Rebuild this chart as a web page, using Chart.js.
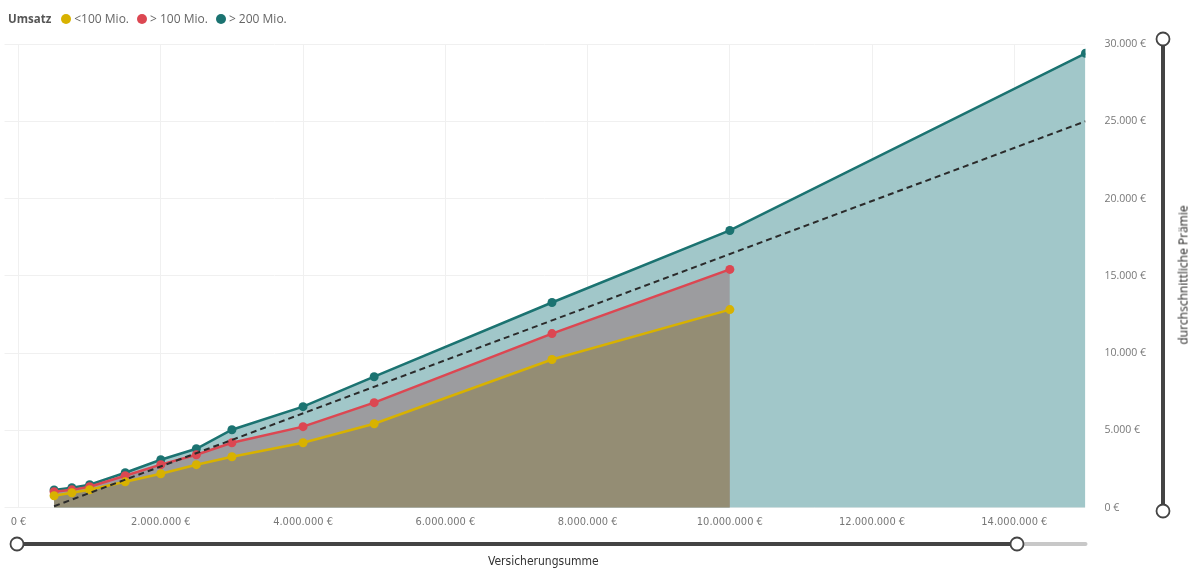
<!DOCTYPE html>
<html>
<head>
<meta charset="utf-8">
<script src="https://cdn.jsdelivr.net/npm/chart.js@4"></script>
<style>
  html, body { margin: 0; padding: 0; background: #fff; }
  #wrap { position: relative; width: 1193px; height: 569px; }
  #legend {
    position: absolute; left: 8px; top: 10px;
    font-family: "Open Sans", "Noto Sans", sans-serif; font-size: 12px; color: #666;
    display: flex; align-items: center; white-space: nowrap;
  }
  #legend b { color: #555; margin-right: 10px; font-size: 11.5px; }
  #legend .dot { display: inline-block; width: 10px; height: 10px; border-radius: 50%; margin-right: 3px; }
  #legend span.item { margin-right: 8px; display: flex; align-items: center; }
  #xtitle {
    position: absolute; left: 488px; top: 554px;
    font-family: "DejaVu Sans Condensed", "DejaVu Sans", sans-serif; font-size: 12px; color: #333;
  }
  #ytitle {
    position: absolute; left: 1183px; top: 275px;
    transform: translate(-50%, -50%) rotate(-90deg);
    font-family: "Open Sans", "Noto Sans", sans-serif; font-size: 12px; color: #252423; white-space: nowrap;
  }
  canvas { position: absolute; left: 0; top: 0; }
</style>
</head>
<body>
<div id="wrap">
  <canvas id="chart" width="1193" height="569"></canvas>
  <div id="legend"></div>
  <div id="xtitle">Versicherungsumme</div>
  <div id="ytitle">durchschnittliche Prämie</div>
</div>
<script>
// Versicherungssumme (x) and average premium per revenue class
const sums = [500000, 750000, 1000000, 1500000, 2000000, 2500000, 3000000, 4000000, 5000000, 7500000, 10000000, 15000000];
const under100 = [780, 970, 1170, 1680, 2200, 2790, 3300, 4210, 5440, 9590, 12820];
const over100 = [1040, 1160, 1360, 2070, 2790, 3430, 4210, 5250, 6800, 11270, 15420];
const over200 = [1150, 1300, 1490, 2270, 3110, 3820, 5050, 6540, 8480, 13280, 17940, 29400];
const trendX = [500000, 15000000];
const trendY = [100, 25000];

const seriesNames = ["<100 Mio.", "> 100 Mio.", "> 200 Mio."];
const lineColors = ["#d8b200", "#dc4752", "#1b7371"];
const fillColors = ["#948d74", "#9c9c9f", "#a1c7c9"];

const toPoints = (vals) => vals.map((v, i) => ({ x: sums[i], y: v }));

// legend as html
const legend = document.getElementById("legend");
legend.innerHTML = "<b>Umsatz</b>" + seriesNames.map((n, i) =>
  `<span class="item"><span class="dot" style="background:${lineColors[i]}"></span>${n}</span>`).join("");

// slider decorations (Power BI zoom sliders)
const sliders = {
  id: "sliders",
  afterDraw(chart) {
    const ctx = chart.ctx;
    const a = chart.chartArea;
    ctx.save();
    // horizontal slider
    const hy = 544;
    ctx.lineCap = "round";
    ctx.strokeStyle = "#c8c8c8"; ctx.lineWidth = 4;
    ctx.beginPath(); ctx.moveTo(1017, hy); ctx.lineTo(a.right, hy); ctx.stroke();
    ctx.strokeStyle = "#444"; ctx.lineWidth = 4;
    ctx.beginPath(); ctx.moveTo(17, hy); ctx.lineTo(1017, hy); ctx.stroke();
    // vertical slider
    const vx = 1163;
    ctx.beginPath(); ctx.moveTo(vx, 39); ctx.lineTo(vx, 511); ctx.stroke();
    // handles
    ctx.fillStyle = "#fff"; ctx.strokeStyle = "#444"; ctx.lineWidth = 1.8;
    [[17, hy], [1017, hy], [vx, 39], [vx, 511]].forEach(([x, y]) => {
      ctx.beginPath(); ctx.arc(x, y, 6.5, 0, Math.PI * 2); ctx.fill(); ctx.stroke();
    });
    ctx.restore();
  }
};

const euro = (v) => v.toLocaleString("de-DE") + " €";

new Chart(document.getElementById("chart"), {
  type: "line",
  data: {
    datasets: [
      {
        label: seriesNames[0], data: toPoints(under100),
        borderColor: lineColors[0], backgroundColor: fillColors[0],
        pointBackgroundColor: lineColors[0], fill: "origin"
      },
      {
        label: seriesNames[1], data: toPoints(over100),
        borderColor: lineColors[1], backgroundColor: fillColors[1],
        pointBackgroundColor: lineColors[1], fill: "origin"
      },
      {
        label: seriesNames[2], data: toPoints(over200),
        borderColor: lineColors[2], backgroundColor: fillColors[2],
        pointBackgroundColor: lineColors[2], fill: "origin"
      },
      {
        label: "Trend", data: trendX.map((x, i) => ({ x, y: trendY[i] })),
        borderColor: "#2b2b2b", borderDash: [6, 4], borderWidth: 2,
        pointRadius: 0, fill: false, order: -1
      }
    ]
  },
  options: {
    responsive: false,
    animation: false,
    layout: { padding: { left: 0, right: 28, top: 44, bottom: 32 } },
    elements: {
      line: { borderWidth: 2.5, tension: 0 },
      point: { radius: 4.5, borderWidth: 0, hoverRadius: 4.5 }
    },
    plugins: { legend: { display: false }, tooltip: { enabled: false } },
    scales: {
      x: {
        type: "linear", min: -197000, max: 15000000,
        grid: { color: "#f0f0f0", drawTicks: false },
        border: { display: false },
        afterBuildTicks: (axis) => {
          axis.ticks = [0, 2, 4, 6, 8, 10, 12, 14].map((m) => ({ value: m * 1000000 }));
        },
        ticks: {
          color: "#777", padding: 8, maxRotation: 0,
          font: { family: "DejaVu Sans Condensed", size: 11 },
          callback: (v) => euro(v)
        }
      },
      y: {
        position: "right", min: 0, max: 30000,
        grid: { color: "#f0f0f0", drawTicks: false },
        border: { display: false },
        ticks: {
          stepSize: 5000, color: "#777", padding: 19,
          font: { family: "Open Sans", size: 10.5 },
          callback: (v) => euro(v)
        }
      }
    }
  },
  plugins: [sliders]
});
</script>
</body>
</html>
